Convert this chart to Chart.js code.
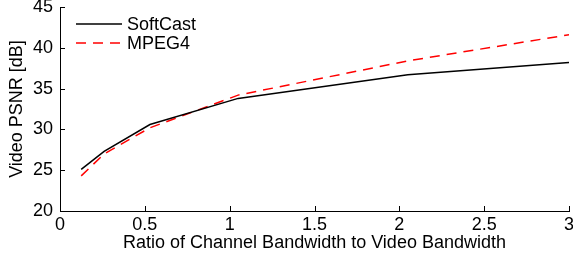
<!DOCTYPE html>
<html>
<head>
<meta charset="utf-8">
<script src="https://cdn.jsdelivr.net/npm/chart.js@4/dist/chart.umd.min.js"></script>
<style>
  body { margin: 0; background: #fff; }
  canvas { display: block; }
</style>
</head>
<body>
<canvas id="chart" width="573" height="254"></canvas>
<script>
// data
const ratios = [0.125, 0.26, 0.53, 1.05, 2.05, 3.0];
const softcast = [25.1, 27.3, 30.6, 33.8, 36.7, 38.2];
const mpeg4 = [24.3, 27.0, 30.2, 34.2, 38.4, 41.6];
const xTicks = [0, 0.5, 1, 1.5, 2, 2.5, 3];
const yTicks = [20, 25, 30, 35, 40, 45];

const FONT = "'Liberation Sans', Arial, sans-serif";

// inward tick marks, matlab style
const innerTicks = {
    id: "innerTicks",
    afterDraw(chart) {
        const ctx = chart.ctx;
        const x = chart.scales.x, y = chart.scales.y;
        ctx.save();
        ctx.strokeStyle = "#000";
        ctx.lineWidth = 1;
        ctx.beginPath();
        xTicks.forEach(v => {
            const px = Math.round(x.getPixelForValue(v)) + 0.5;
            ctx.moveTo(px, y.bottom);
            ctx.lineTo(px, y.bottom - 5);
        });
        yTicks.forEach(v => {
            const py = Math.round(y.getPixelForValue(v)) + 0.5;
            ctx.moveTo(x.left, py);
            ctx.lineTo(x.left + 5, py);
        });
        ctx.stroke();
        ctx.restore();
    }
};

// legend in the top-left corner of the axes
const cornerLegend = {
    id: "cornerLegend",
    afterDraw(chart) {
        const ctx = chart.ctx;
        ctx.save();
        ctx.font = "18px " + FONT;
        ctx.textBaseline = "middle";
        chart.data.datasets.forEach((ds, i) => {
            const ly = 24 + i * 19;
            ctx.strokeStyle = ds.borderColor;
            ctx.lineWidth = ds.borderWidth;
            ctx.setLineDash(ds.borderDash || []);
            ctx.beginPath();
            ctx.moveTo(76, ly);
            ctx.lineTo(122, ly);
            ctx.stroke();
            ctx.setLineDash([]);
            ctx.fillStyle = "#000";
            ctx.fillText(ds.label, 127, ly + 1);
        });
        ctx.restore();
    }
};

new Chart(document.getElementById("chart").getContext("2d"), {
    type: "line",
    data: {
        datasets: [
            {
                label: "SoftCast",
                data: ratios.map((r, i) => ({ x: r, y: softcast[i] })),
                borderColor: "#000",
                borderWidth: 1.5,
                pointRadius: 0,
                tension: 0,
                fill: false
            },
            {
                label: "MPEG4",
                data: ratios.map((r, i) => ({ x: r, y: mpeg4[i] })),
                borderColor: "#ff0000",
                borderWidth: 1.5,
                borderDash: [10, 7],
                pointRadius: 0,
                tension: 0,
                fill: false
            }
        ]
    },
    options: {
        responsive: false,
        animation: false,
        layout: { padding: { top: 7, right: 4, left: 0, bottom: 0 } },
        plugins: {
            legend: { display: false },
            tooltip: { enabled: false }
        },
        scales: {
            x: {
                type: "linear",
                min: 0,
                max: 3,
                afterBuildTicks: s => { s.ticks = xTicks.map(v => ({ value: v })); },
                afterFit: s => { s.height = 43; s.paddingLeft = 0; s.paddingRight = 0; },
                grid: { display: false, drawTicks: false },
                border: { display: true, color: "#000", width: 1 },
                ticks: {
                    color: "#000",
                    font: { family: FONT, size: 18 },
                    padding: 3,
                    maxRotation: 0,
                    callback: v => String(v)
                },
                title: {
                    display: true,
                    text: "Ratio of Channel Bandwidth to Video Bandwidth",
                    color: "#000",
                    font: { family: FONT, size: 18 },
                    padding: { top: 0, bottom: 0 }
                }
            },
            y: {
                min: 20,
                max: 45,
                afterBuildTicks: s => { s.ticks = yTicks.map(v => ({ value: v })); },
                afterFit: s => { s.width = 60; s.paddingTop = 0; s.paddingBottom = 0; },
                grid: { display: false, drawTicks: false },
                border: { display: true, color: "#000", width: 1 },
                ticks: { color: "#000", font: { family: FONT, size: 18 }, padding: 7 },
                title: {
                    display: true,
                    text: "Video PSNR [dB]",
                    color: "#000",
                    font: { family: FONT, size: 18 },
                    padding: { top: 6, bottom: 0 }
                }
            }
        }
    },
    plugins: [innerTicks, cornerLegend]
});
</script>
</body>
</html>
